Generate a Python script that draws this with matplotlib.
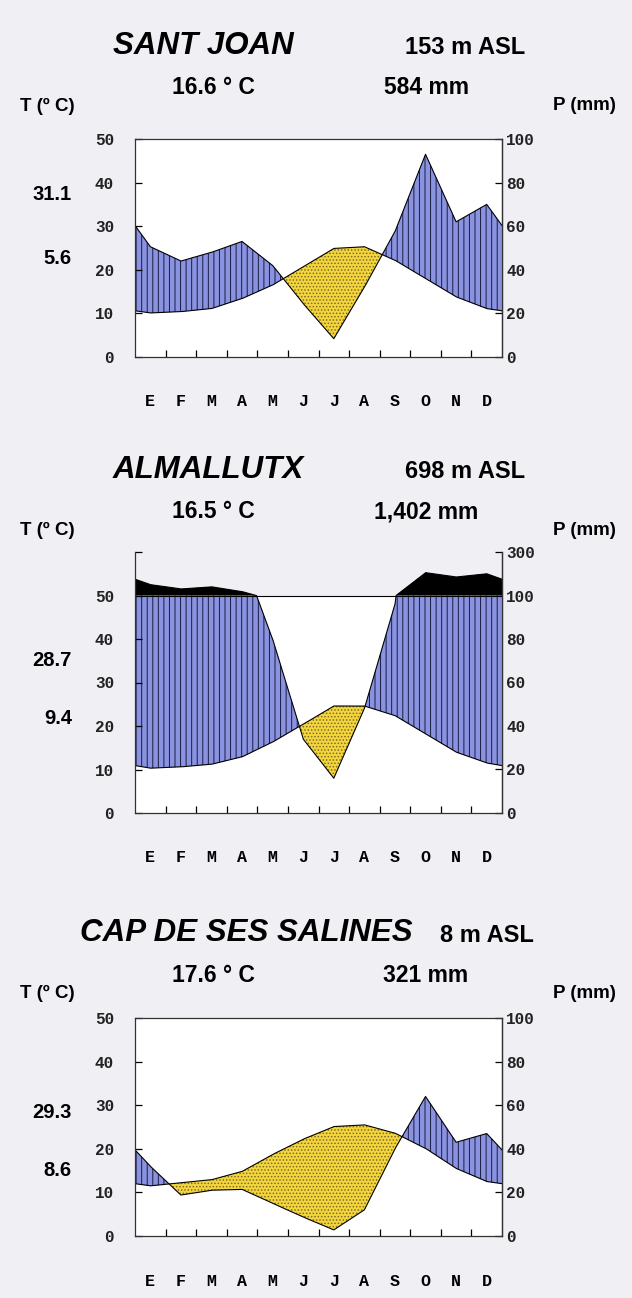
import numpy as np
import matplotlib
matplotlib.use('Agg')
import matplotlib.pyplot as plt

# monthly data
months = ['E', 'F', 'M', 'A', 'M', 'J', 'J', 'A', 'S', 'O', 'N', 'D']

sj_temp = [10.1, 10.4, 11.1, 13.4, 16.5, 20.7, 24.9, 25.3, 22.2, 18.0, 13.8, 11.1]
sj_prec = [50.6, 44, 48, 53, 42, 24.5, 8.4, 32, 57.5, 93, 62, 70]

al_temp = [10.3, 10.6, 11.2, 12.9, 16.3, 20.4, 24.6, 24.6, 22.4, 18.2, 14.0, 11.5]
al_prec = [150, 130, 140, 118, 80, 34, 16, 48, 96, 205, 185, 200]

cs_temp = [11.5, 12.2, 12.9, 14.8, 18.7, 22.2, 25.1, 25.5, 23.6, 20.1, 15.5, 12.5]
cs_prec = [32, 18.8, 21, 21.4, 15, 8.7, 2.8, 12, 40, 64, 43, 47]

stations = ['SANT JOAN', 'ALMALLUTX', 'CAP DE SES SALINES']
altitudes = ['153 m ASL', '698 m ASL', '8 m ASL']
mean_temp = ['16.6 ° C', '16.5 ° C', '17.6 ° C']
total_prec = ['584 mm', '1,402 mm', '321 mm']
max_temp = ['31.1', '28.7', '29.3']
min_temp = ['5.6', '9.4', '8.6']

BG = '#efeff4'
BLUE = '#8a93e0'
YELLOW = '#f4d63c'
W, H = 632, 1298

plt.rcParams['hatch.linewidth'] = 0.7
sans = ['Liberation Sans', 'DejaVu Sans']
mono = ['Liberation Mono', 'DejaVu Sans Mono']

fig = plt.figure(figsize=(W / 100, H / 100), dpi=100, facecolor=BG)


def px(x, y):
    return x / W, 1 - y / H


def p_to_axis(p):
    # Walter-Lieth: 20 mm = 10 C, above 100 mm the scale is reduced to 1/10
    p = np.asarray(p, dtype=float)
    return np.where(p <= 100, p / 2, 50 + (p - 100) / 20)


def axis_to_p(u):
    u = np.asarray(u, dtype=float)
    return np.where(u <= 50, u * 2, 100 + (u - 50) * 20)


def draw_panel(rect, temp, prec, tall):
    ax = fig.add_axes(rect)
    ymax = 60 if tall else 50
    ax.set_xlim(0, 12)
    ax.set_ylim(0, ymax)

    # wrap the year round so the curves reach the frame edges
    xs = np.concatenate([[0], np.arange(12) + 0.5, [12]])
    t_edge = (temp[0] + temp[-1]) / 2
    p_edge = (prec[0] + prec[-1]) / 2
    ts = np.concatenate([[t_edge], temp, [t_edge]])
    ps = np.concatenate([[p_edge], prec, [p_edge]])
    x = np.linspace(0, 12, 2401)
    t = np.interp(x, xs, ts)
    p = p_to_axis(np.interp(x, xs, ps))

    if tall:
        ax.set_facecolor('none')
        ax.axhspan(0, 50, color='white', zorder=0)
        ax.spines['top'].set_visible(False)
    else:
        ax.set_facecolor('white')

    ax.fill_between(x, t, np.minimum(p, 50), where=p >= t, interpolate=True,
                    facecolor=BLUE, edgecolor='#1a1a40', hatch='|||', linewidth=0, zorder=1)
    ax.fill_between(x, p, t, where=t >= p, interpolate=True,
                    facecolor=YELLOW, edgecolor='#7a6a28', hatch='.....', linewidth=0, zorder=1)
    if tall:
        ax.fill_between(x, 50, p, where=p > 50, interpolate=True,
                        facecolor='black', linewidth=0, zorder=1)
        ax.axhline(50, color='black', lw=0.8, zorder=2)
    ax.plot(x, t, color='black', lw=0.8, zorder=2)
    ax.plot(x, p, color='black', lw=0.8, zorder=2)

    for s in ax.spines.values():
        s.set_linewidth(0.9)
        s.set_color('#333333')

    # month ticks at boundaries, letters at month centres
    ax.set_xticks(np.arange(1, 12))
    ax.set_xticklabels([])
    ax.set_xticks(np.arange(12) + 0.5, minor=True)
    ax.set_xticklabels(months, minor=True, fontfamily=mono, fontsize=12, fontweight='bold')
    ax.tick_params(axis='x', which='major', direction='in', length=5, width=0.9)
    ax.tick_params(axis='x', which='minor', length=0, pad=27)

    ax.set_yticks(np.arange(0, ymax + 1, 10))
    ax.set_yticklabels([str(v) if v <= 50 else '' for v in range(0, ymax + 1, 10)],
                       fontfamily=mono, fontsize=11.5, fontweight='bold', color='#222222')
    ax.tick_params(axis='y', direction='in', length=5, width=0.9, pad=15)

    sec = ax.secondary_yaxis('right', functions=(axis_to_p, p_to_axis))
    ticks = [0, 20, 40, 60, 80, 100] + ([300] if tall else [])
    sec.set_yticks(ticks)
    sec.set_yticklabels([str(v) for v in ticks], fontfamily=mono, fontsize=11.5,
                        fontweight='bold', color='#222222')
    sec.tick_params(direction='in', length=5, width=0.9, pad=3)
    sec.spines['right'].set_linewidth(0.9)
    sec.spines['right'].set_color('#333333')
    return ax


panels = [
    (sj_temp, sj_prec, False, 139, 357),
    (al_temp, al_prec, True, 552, 813),
    (cs_temp, cs_prec, False, 1018, 1236),
]
title_y = [46, 470, 933]
title_x = [113, 113, 80]
alt_x = [405, 405, 440]
max_y = [195, 660, 1113]
min_y = [258, 718, 1170]

for i, (temp, prec, tall, top, bottom) in enumerate(panels):
    left, right = 135, 502
    rect = [left / W, 1 - bottom / H, (right - left) / W, (bottom - top) / H]
    draw_panel(rect, temp, prec, tall)

    ty = title_y[i]
    fig.text(*px(title_x[i], ty), stations[i], fontfamily=sans,
             fontsize=22.5, fontweight='bold', fontstyle='italic', ha='left', va='center')
    fig.text(*px(alt_x[i], ty + 2), altitudes[i], fontfamily=sans, fontsize=17,
             fontweight='bold', ha='left', va='center')
    fig.text(*px(213, ty + 42), mean_temp[i], fontfamily=sans, fontsize=16.5,
             fontweight='bold', ha='center', va='center')
    fig.text(*px(426, ty + 42), total_prec[i], fontfamily=sans, fontsize=16.5,
             fontweight='bold', ha='center', va='center')
    fig.text(*px(20, ty + 60), 'T (º C)', fontfamily=sans, fontsize=13.5,
             fontweight='bold', ha='left', va='center')
    fig.text(*px(553, ty + 60), 'P (mm)', fontfamily=sans, fontsize=13.5,
             fontweight='bold', ha='left', va='center')

    # absolute max / min temperature beside the axis
    fig.text(*px(72, max_y[i]), max_temp[i], fontfamily=sans, fontsize=14.5,
             fontweight='bold', ha='right', va='center')
    fig.text(*px(72, min_y[i]), min_temp[i], fontfamily=sans, fontsize=14.5,
             fontweight='bold', ha='right', va='center')

fig.savefig('out.png', dpi=100, facecolor=BG)
